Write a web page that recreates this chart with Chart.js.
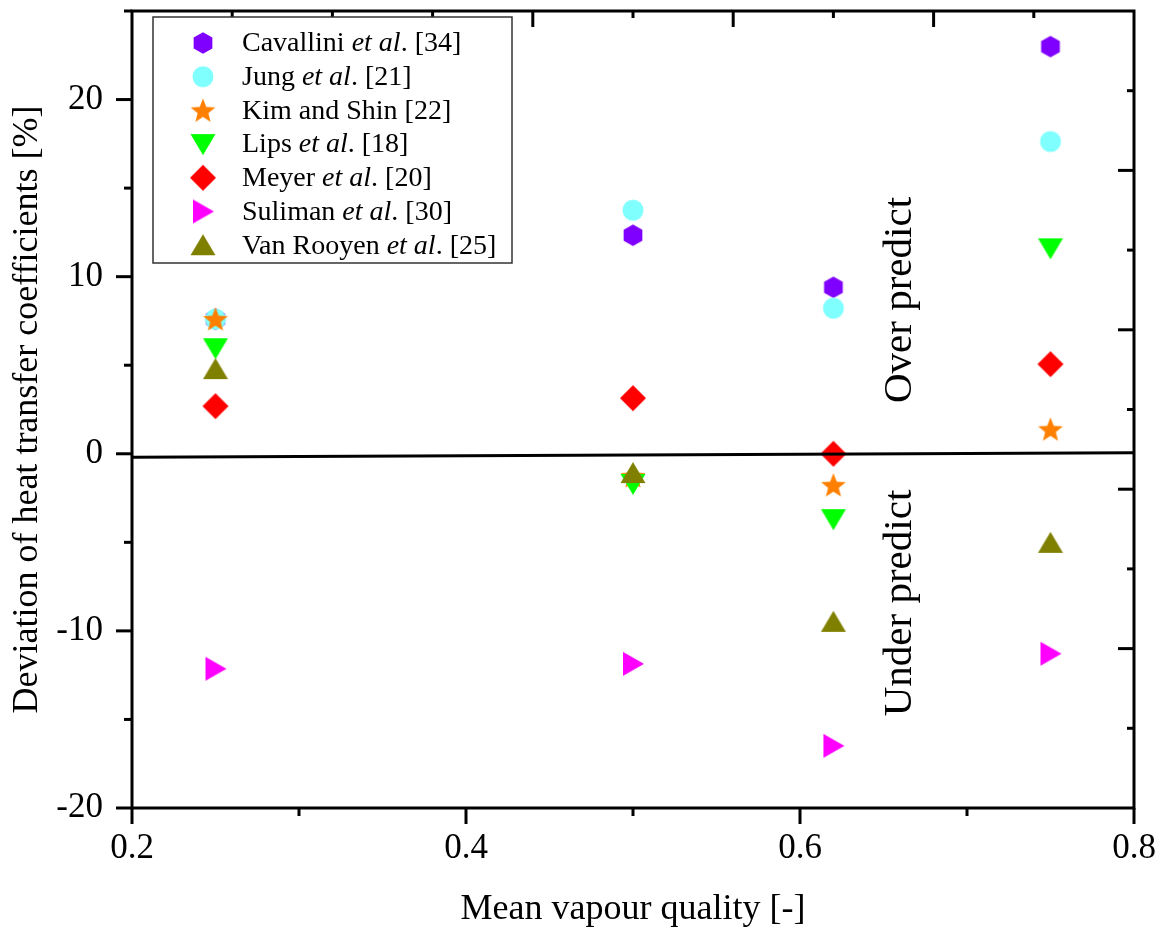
<!DOCTYPE html>
<html><head><meta charset="utf-8">
<script src="https://cdn.jsdelivr.net/npm/chart.js@4/dist/chart.umd.min.js"></script>
<style>html,body{margin:0;padding:0;background:#fff;overflow:hidden}</style>
</head><body>
<canvas id="c" width="1165" height="932" style="display:block;width:1165px;height:932px"></canvas>
<script>
// ---- data ----
const qualities = [0.25, 0.5, 0.62, 0.75];
const cavallini = [7.6, 12.34, 9.40, 22.99];
const jung      = [7.60, 13.75, 8.22, 17.63];
const kimShin   = [7.6, -1.26, -1.77, 1.38];
const lips      = [5.96, -1.7, -3.69, 11.6];
const meyer     = [2.69, 3.14, 0.0, 5.06];
const suliman   = [-12.14, -11.86, -16.49, -11.29];
const vanRooyen = [4.78, -1.09, -9.49, -5.03];

const seriesNames = ['Cavallini', 'Jung', 'Kim and Shin', 'Lips', 'Meyer', 'Suliman', 'Van Rooyen'];
const seriesEtAl  = [true, true, false, true, true, true, true];
const seriesRefs  = ['[34]', '[21]', '[22]', '[18]', '[20]', '[30]', '[25]'];
const seriesValues = [cavallini, jung, kimShin, lips, meyer, suliman, vanRooyen];
const seriesColors = ['#8000FF', '#80FFFF', '#FF8000', '#00FF00', '#FF0000', '#FF00FF', '#808000'];
const seriesShapes = ['hexagon', 'circle', 'star', 'triDown', 'diamond', 'triRight', 'triUp'];

const zeroLineX = [0.2, 0.8];
const zeroLineY = [-0.19, 0.06];

const xTickValues = [0.2, 0.4, 0.6, 0.8];
const xMinorValues = [0.3, 0.5, 0.7];
const yTickValues = [-20, -10, 0, 10, 20];
const yMinorValues = [-15, -5, 5, 15, 25];
const topTickValues = [1, 2, 3, 4, 5, 6, 7, 8, 9];
const rightTickValues = [1, 2, 3, 4, 5, 6, 7, 8, 9];

const annotations = ['Over predict', 'Under predict'];
const xTitle = 'Mean vapour quality [-]';
const yTitle = 'Deviation of heat transfer coefficients [%]';

// ---- marker images ----
function makeMarker(shape, color) {
  const S = 30, c = document.createElement('canvas');
  c.width = S; c.height = S;
  const g = c.getContext('2d');
  g.fillStyle = color;
  g.translate(S / 2, S / 2);
  g.beginPath();
  if (shape === 'circle') {
    g.arc(0, 0, 10.5, 0, Math.PI * 2);
  } else if (shape === 'hexagon') {
    for (let i = 0; i < 6; i++) {
      const a = -Math.PI / 2 + i * Math.PI / 3;
      const px = 10.8 * Math.cos(a), py = 10.8 * Math.sin(a);
      i ? g.lineTo(px, py) : g.moveTo(px, py);
    }
  } else if (shape === 'star') {
    for (let i = 0; i < 10; i++) {
      const r = i % 2 ? 5.6 : 13;
      const a = -Math.PI / 2 + i * Math.PI / 5;
      const px = r * Math.cos(a), py = r * Math.sin(a) + 1;
      i ? g.lineTo(px, py) : g.moveTo(px, py);
    }
  } else if (shape === 'diamond') {
    g.moveTo(0, -13); g.lineTo(13, 0); g.lineTo(0, 13); g.lineTo(-13, 0);
  } else if (shape === 'triDown') {
    g.moveTo(-12.5, -10); g.lineTo(12.5, -10); g.lineTo(0, 11);
  } else if (shape === 'triUp') {
    g.moveTo(-12.5, 10); g.lineTo(12.5, 10); g.lineTo(0, -11);
  } else if (shape === 'triRight') {
    g.moveTo(-10, -12); g.lineTo(11, 0); g.lineTo(-10, 12);
  }
  g.closePath();
  g.fill();
  return c;
}
const markerImgs = seriesShapes.map((s, i) => makeMarker(s, seriesColors[i]));

// ---- datasets ----
const N = seriesNames.length;
const datasets = seriesNames.map((name, i) => ({
  label: name + (seriesEtAl[i] ? ' et al. ' : ' ') + seriesRefs[i],
  data: qualities.map((q, j) => ({ x: q, y: seriesValues[i][j] })),
  pointStyle: markerImgs[i],
  pointRadius: 10,
  pointHoverRadius: 10,
  backgroundColor: seriesColors[i],
  borderColor: seriesColors[i],
  showLine: false,
  order: N - i + 1
}));
datasets.push({
  label: 'zero',
  data: zeroLineX.map((x, j) => ({ x: x, y: zeroLineY[j] })),
  showLine: true,
  borderColor: '#000',
  borderWidth: 3,
  pointRadius: 0,
  order: 0
});

const SERIF = '"Liberation Serif", "Times New Roman", serif';

function fixSize(prop, val) {
  return s => {
    s[prop] = val;
    s.paddingTop = 0; s.paddingBottom = 0; s.paddingLeft = 0; s.paddingRight = 0;
  };
}

const decorPlugin = {
  id: 'decor',
  afterDraw(chart) {
    const ctx = chart.ctx;
    const { left, right, top, bottom } = chart.chartArea;
    const sx = chart.scales.x, sy = chart.scales.y, sx2 = chart.scales.x2, sy2 = chart.scales.y2;
    ctx.save();
    ctx.strokeStyle = '#000';
    ctx.lineWidth = 3;
    const line = (a, b, c, d) => { ctx.beginPath(); ctx.moveTo(a, b); ctx.lineTo(c, d); ctx.stroke(); };
    // frame
    ctx.lineJoin = 'miter';
    ctx.strokeRect(left, top, right - left, bottom - top);
    // left ticks (outward)
    yTickValues.forEach(v => { const y = sy.getPixelForValue(v); line(left - 16, y, left, y); });
    yMinorValues.forEach(v => { const y = sy.getPixelForValue(v); line(left - 8, y, left, y); });
    // bottom ticks (outward)
    xTickValues.forEach(v => { const x = sx.getPixelForValue(v); line(x, bottom, x, bottom + 16); });
    xMinorValues.forEach(v => { const x = sx.getPixelForValue(v); line(x, bottom, x, bottom + 8); });
    // top ticks (inward)
    topTickValues.forEach(v => { const x = sx2.getPixelForValue(v); const L = v % 2 === 0 ? 16 : 7; line(x, top, x, top + L); });
    // right ticks (inward)
    rightTickValues.forEach(v => { const y = sy2.getPixelForValue(v); const L = v % 2 === 0 ? 16 : 7; line(right - L, y, right, y); });

    // annotations
    ctx.fillStyle = '#000';
    ctx.font = '41px ' + SERIF;
    ctx.textAlign = 'center';
    ctx.textBaseline = 'alphabetic';
    [[annotations[0], 300], [annotations[1], 603]].forEach(([t, cy]) => {
      ctx.save();
      ctx.translate(911, cy);
      ctx.rotate(-Math.PI / 2);
      ctx.fillText(t, 0, 0);
      ctx.restore();
    });

    // legend
    const lx = 153, ly = 17, lw = 359, lh = 246;
    ctx.fillStyle = '#fff';
    ctx.fillRect(lx, ly, lw, lh);
    ctx.lineWidth = 1.5;
    ctx.strokeStyle = '#333';
    ctx.strokeRect(lx, ly, lw, lh);
    ctx.fillStyle = '#000';
    ctx.textAlign = 'left';
    ctx.textBaseline = 'middle';
    const rowY0 = 43, rowH = 33.7;
    seriesNames.forEach((name, i) => {
      const cy = rowY0 + i * rowH;
      const img = markerImgs[i];
      ctx.drawImage(img, 203 - img.width / 2, cy - img.height / 2);
      let x = 242;
      const roman = '28px ' + SERIF, ital = 'italic 28px ' + SERIF;
      ctx.font = roman;
      ctx.fillText(name + ' ', x, cy + 1); x += ctx.measureText(name + ' ').width;
      if (seriesEtAl[i]) {
        ctx.font = ital;
        ctx.fillText('et al', x, cy + 1); x += ctx.measureText('et al').width;
        ctx.font = roman;
        ctx.fillText('. ', x, cy + 1); x += ctx.measureText('. ').width;
      }
      ctx.font = roman;
      ctx.fillText(seriesRefs[i], x, cy + 1);
    });
    ctx.restore();
  }
};

new Chart(document.getElementById('c'), {
  type: 'scatter',
  data: { datasets },
  plugins: [decorPlugin],
  options: {
    responsive: false,
    animation: false,
    devicePixelRatio: 1,
    events: [],
    layout: { padding: 0 },
    plugins: { legend: { display: false }, tooltip: { enabled: false } },
    scales: {
      x: {
        type: 'linear', position: 'bottom', min: 0.2, max: 0.8,
        grid: { display: false, drawTicks: false },
        border: { display: false },
        afterBuildTicks: s => { s.ticks = xTickValues.map(v => ({ value: v })); },
        afterFit: fixSize('height', 124),
        ticks: {
          padding: 20, color: '#000', font: { family: SERIF, size: 35 },
          maxRotation: 0, autoSkip: false,
          callback: v => String(v)
        },
        title: { display: true, text: xTitle, color: '#000', font: { family: SERIF, size: 36, lineHeight: 1 }, padding: { top: 0, bottom: 4 } }
      },
      y: {
        type: 'linear', position: 'left', min: -20, max: 25,
        grid: { display: false, drawTicks: false },
        border: { display: false },
        afterBuildTicks: s => { s.ticks = yTickValues.map(v => ({ value: v })); },
        afterFit: fixSize('width', 132),
        ticks: {
          padding: 29, color: '#000', font: { family: SERIF, size: 35 },
          callback: v => String(v)
        },
        title: { display: true, text: yTitle, color: '#000', font: { family: SERIF, size: 36, lineHeight: 1 }, padding: { top: 10, bottom: 0 } }
      },
      x2: {
        type: 'linear', position: 'top', min: 0, max: 10,
        grid: { display: false, drawTicks: false }, border: { display: false },
        ticks: { display: false },
        afterFit: fixSize('height', 10)
      },
      y2: {
        type: 'linear', position: 'right', min: 0, max: 10,
        grid: { display: false, drawTicks: false }, border: { display: false },
        ticks: { display: false },
        afterFit: fixSize('width', 31)
      }
    }
  }
});
</script>
</body></html>
